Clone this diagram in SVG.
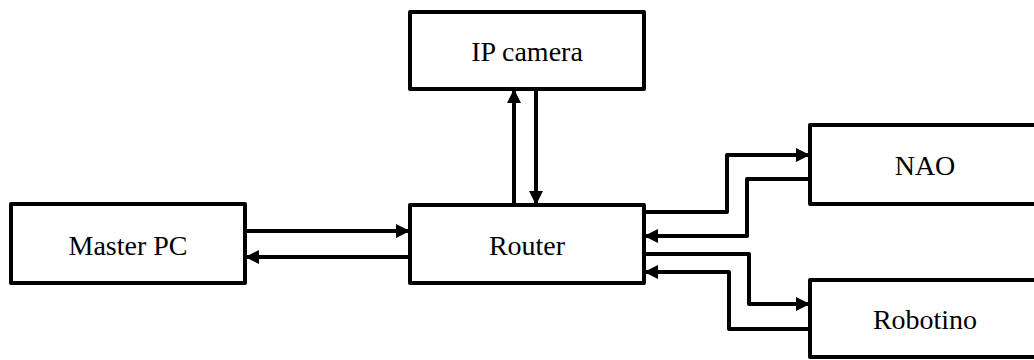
<svg xmlns="http://www.w3.org/2000/svg" width="1034" height="360" viewBox="0 0 1034 360">
<style>
.box{fill:#fff;stroke:#000;stroke-width:4;stroke-linejoin:round}
.lbl{font-family:"Liberation Serif","Times New Roman",serif;font-size:28px;fill:#000;text-anchor:middle}
.con{fill:none;stroke:#000;stroke-width:4;stroke-linejoin:round;marker-end:url(#ah)}
</style>
<defs>
<marker id="ah" markerUnits="userSpaceOnUse" markerWidth="14" markerHeight="14" viewBox="0 0 13 13" refX="13" refY="6.5" orient="auto">
<path d="M0,0 L13,6.5 L0,13 z" fill="#000"/>
</marker>
</defs>
<rect width="1034" height="360" fill="#fff"/>
<g id="ipcamera"><rect class="box" x="410" y="12" width="234" height="77"/><text class="lbl" x="527" y="61">IP camera</text></g>
<g id="masterpc"><rect class="box" x="11" y="204" width="234" height="79"/><text class="lbl" x="128" y="255">Master PC</text></g>
<g id="router"><rect class="box" x="410" y="205" width="234" height="78"/><text class="lbl" x="527" y="255">Router</text></g>
<g id="nao"><rect class="box" x="810" y="125" width="230" height="79"/><text class="lbl" x="925" y="175">NAO</text></g>
<g id="robotino"><rect class="box" x="810" y="280" width="230" height="77"/><text class="lbl" x="925" y="329">Robotino</text></g>
<g id="connectors">
<path class="con" d="M245,231 H410"/>
<path class="con" d="M410,257 H245"/>
<path class="con" d="M514,205 V89"/>
<path class="con" d="M536,89 V205"/>
<path class="con" d="M644,212 H727 V155 H810"/>
<path class="con" d="M810,179 H747 V236 H644"/>
<path class="con" d="M644,254 H749 V304 H810"/>
<path class="con" d="M810,329 H729 V272 H644"/>
</g>
</svg>
